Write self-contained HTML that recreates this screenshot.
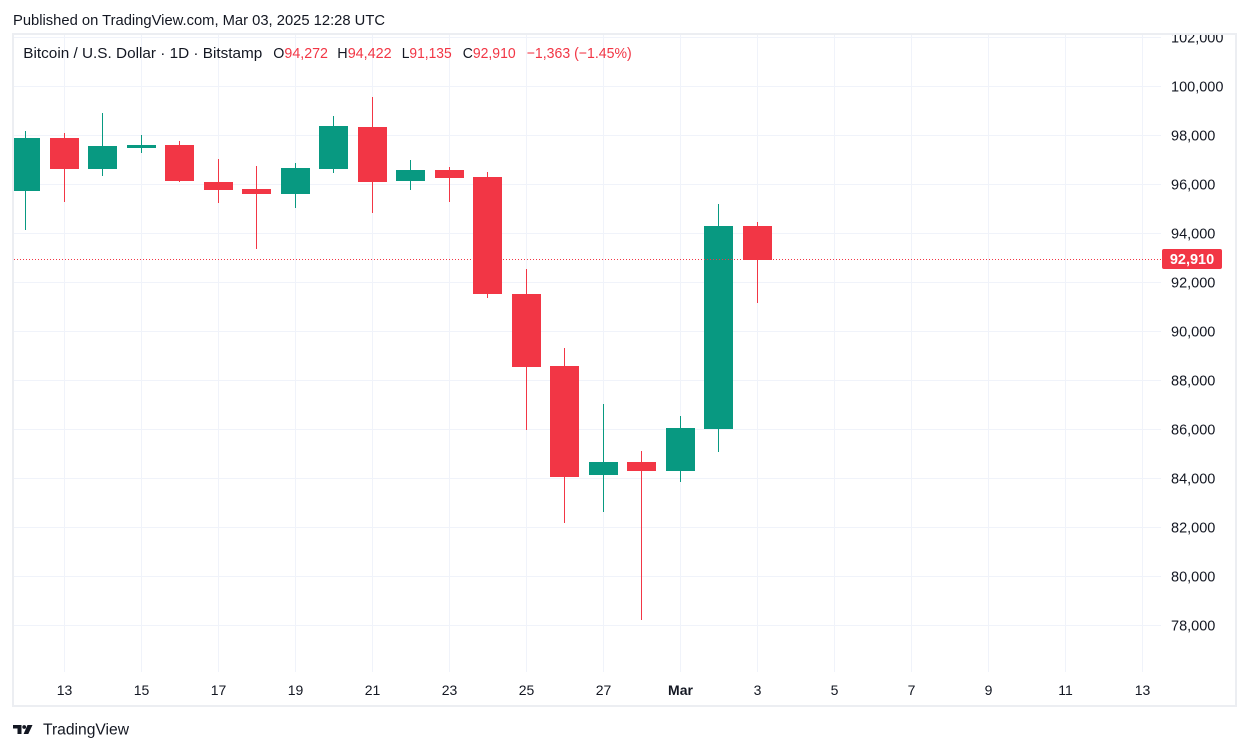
<!DOCTYPE html>
<html>
<head>
<meta charset="utf-8">
<style>
html,body{margin:0;padding:0;background:#ffffff;}
svg{display:block;}
text{font-family:"Liberation Sans",sans-serif;}
</style>
</head>
<body>
<svg width="1249" height="751" viewBox="0 0 1249 751" xmlns="http://www.w3.org/2000/svg">
<defs>
<clipPath id="pane"><rect x="14" y="35" width="1147" height="637"/></clipPath>
<clipPath id="axis"><rect x="1150" y="35" width="86" height="670"/></clipPath>
</defs>
<rect x="0" y="0" width="1249" height="751" fill="#ffffff"/>

<!-- header -->
<text x="13" y="25" font-size="15" fill="#131722" textLength="372" lengthAdjust="spacingAndGlyphs">Published on TradingView.com, Mar 03, 2025 12:28 UTC</text>

<!-- frame -->
<rect x="13" y="34" width="1223" height="672" fill="none" stroke="#eceef2" stroke-width="2"/>

<!-- vertical grid -->
<g stroke="#f0f3fa" stroke-width="1">
<line x1="64.5" y1="35" x2="64.5" y2="672"/>
<line x1="141.5" y1="35" x2="141.5" y2="672"/>
<line x1="218.5" y1="35" x2="218.5" y2="672"/>
<line x1="295.5" y1="35" x2="295.5" y2="672"/>
<line x1="372.5" y1="35" x2="372.5" y2="672"/>
<line x1="449.5" y1="35" x2="449.5" y2="672"/>
<line x1="526.5" y1="35" x2="526.5" y2="672"/>
<line x1="603.5" y1="35" x2="603.5" y2="672"/>
<line x1="680.5" y1="35" x2="680.5" y2="672"/>
<line x1="757.5" y1="35" x2="757.5" y2="672"/>
<line x1="834.5" y1="35" x2="834.5" y2="672"/>
<line x1="911.5" y1="35" x2="911.5" y2="672"/>
<line x1="988.5" y1="35" x2="988.5" y2="672"/>
<line x1="1065.5" y1="35" x2="1065.5" y2="672"/>
<line x1="1142.5" y1="35" x2="1142.5" y2="672"/>
</g>
<!-- horizontal grid -->
<g stroke="#f0f3fa" stroke-width="1">
<line x1="14" y1="37.5" x2="1161" y2="37.5"/>
<line x1="14" y1="86.5" x2="1161" y2="86.5"/>
<line x1="14" y1="135.5" x2="1161" y2="135.5"/>
<line x1="14" y1="184.5" x2="1161" y2="184.5"/>
<line x1="14" y1="233.5" x2="1161" y2="233.5"/>
<line x1="14" y1="282.5" x2="1161" y2="282.5"/>
<line x1="14" y1="331.5" x2="1161" y2="331.5"/>
<line x1="14" y1="380.5" x2="1161" y2="380.5"/>
<line x1="14" y1="429.5" x2="1161" y2="429.5"/>
<line x1="14" y1="478.5" x2="1161" y2="478.5"/>
<line x1="14" y1="527.5" x2="1161" y2="527.5"/>
<line x1="14" y1="576.5" x2="1161" y2="576.5"/>
<line x1="14" y1="625.5" x2="1161" y2="625.5"/>
</g>

<!-- candles -->
<g clip-path="url(#pane)">
<!-- 12 G -->
<rect x="25" y="131" width="1" height="99" fill="#089981"/>
<rect x="11" y="138" width="29" height="53" fill="#089981"/>
<!-- 13 R -->
<rect x="64" y="133" width="1" height="69" fill="#F23645"/>
<rect x="50" y="138" width="29" height="31" fill="#F23645"/>
<!-- 14 G -->
<rect x="102" y="113" width="1" height="63" fill="#089981"/>
<rect x="88" y="146" width="29" height="23" fill="#089981"/>
<!-- 15 G -->
<rect x="141" y="135" width="1" height="18" fill="#089981"/>
<rect x="127" y="145" width="29" height="3" fill="#089981"/>
<!-- 16 R -->
<rect x="179" y="141" width="1" height="41" fill="#F23645"/>
<rect x="165" y="145" width="29" height="36" fill="#F23645"/>
<!-- 17 R -->
<rect x="218" y="159" width="1" height="44" fill="#F23645"/>
<rect x="204" y="182" width="29" height="8" fill="#F23645"/>
<!-- 18 R -->
<rect x="256" y="166" width="1" height="83" fill="#F23645"/>
<rect x="242" y="189" width="29" height="5" fill="#F23645"/>
<!-- 19 G -->
<rect x="295" y="163" width="1" height="45" fill="#089981"/>
<rect x="281" y="168" width="29" height="26" fill="#089981"/>
<!-- 20 G -->
<rect x="333" y="116" width="1" height="57" fill="#089981"/>
<rect x="319" y="126" width="29" height="43" fill="#089981"/>
<!-- 21 R -->
<rect x="372" y="97" width="1" height="116" fill="#F23645"/>
<rect x="358" y="127" width="29" height="55" fill="#F23645"/>
<!-- 22 G -->
<rect x="410" y="160" width="1" height="30" fill="#089981"/>
<rect x="396" y="170" width="29" height="11" fill="#089981"/>
<!-- 23 R -->
<rect x="449" y="167" width="1" height="35" fill="#F23645"/>
<rect x="435" y="170" width="29" height="8" fill="#F23645"/>
<!-- 24 R -->
<rect x="487" y="172" width="1" height="126" fill="#F23645"/>
<rect x="473" y="177" width="29" height="117" fill="#F23645"/>
<!-- 25 R -->
<rect x="526" y="269" width="1" height="161" fill="#F23645"/>
<rect x="512" y="294" width="29" height="73" fill="#F23645"/>
<!-- 26 R -->
<rect x="564" y="348" width="1" height="175" fill="#F23645"/>
<rect x="550" y="366" width="29" height="111" fill="#F23645"/>
<!-- 27 G -->
<rect x="603" y="404" width="1" height="108" fill="#089981"/>
<rect x="589" y="462" width="29" height="13" fill="#089981"/>
<!-- 28 R -->
<rect x="641" y="451" width="1" height="169" fill="#F23645"/>
<rect x="627" y="462" width="29" height="9" fill="#F23645"/>
<!-- Mar 1 G -->
<rect x="680" y="416" width="1" height="66" fill="#089981"/>
<rect x="666" y="428" width="29" height="43" fill="#089981"/>
<!-- Mar 2 G -->
<rect x="718" y="204" width="1" height="248" fill="#089981"/>
<rect x="704" y="226" width="29" height="203" fill="#089981"/>
<!-- Mar 3 R -->
<rect x="757" y="222" width="1" height="81" fill="#F23645"/>
<rect x="743" y="226" width="29" height="34" fill="#F23645"/>
</g>

<!-- last price dotted line -->
<line x1="14" y1="259.5" x2="1162" y2="259.5" stroke="#F23645" stroke-width="1" stroke-dasharray="1 2"/>

<!-- legend -->
<text x="23.3" y="58" font-size="15" fill="#131722" textLength="239" lengthAdjust="spacingAndGlyphs">Bitcoin / U.S. Dollar · 1D · Bitstamp</text>
<text x="273.3" y="58" font-size="15" fill="#131722" textLength="54.7" lengthAdjust="spacingAndGlyphs">O<tspan fill="#F23645">94,272</tspan></text>
<text x="337.3" y="58" font-size="15" fill="#131722" textLength="54.4" lengthAdjust="spacingAndGlyphs">H<tspan fill="#F23645">94,422</tspan></text>
<text x="401.7" y="58" font-size="15" fill="#131722" textLength="50" lengthAdjust="spacingAndGlyphs">L<tspan fill="#F23645">91,135</tspan></text>
<text x="462.7" y="58" font-size="15" fill="#131722" textLength="53" lengthAdjust="spacingAndGlyphs">C<tspan fill="#F23645">92,910</tspan></text>
<text x="526.7" y="58" font-size="15" fill="#F23645" textLength="105" lengthAdjust="spacingAndGlyphs">−1,363 (−1.45%)</text>

<!-- price axis -->
<g clip-path="url(#axis)" font-size="14.5" fill="#131722">
<text x="1171" y="42.5">102,000</text>
<text x="1171" y="91.5">100,000</text>
<text x="1171" y="140.5">98,000</text>
<text x="1171" y="189.5">96,000</text>
<text x="1171" y="238.5">94,000</text>
<text x="1171" y="287.5">92,000</text>
<text x="1171" y="336.5">90,000</text>
<text x="1171" y="385.5">88,000</text>
<text x="1171" y="434.5">86,000</text>
<text x="1171" y="483.5">84,000</text>
<text x="1171" y="532.5">82,000</text>
<text x="1171" y="581.5">80,000</text>
<text x="1171" y="630.5">78,000</text>
</g>
<!-- last price label -->
<rect x="1162" y="249" width="60" height="20" rx="2" fill="#F23645"/>
<text x="1192" y="264" font-size="14.5" font-weight="bold" fill="#ffffff" text-anchor="middle">92,910</text>

<!-- time axis -->
<g font-size="14" fill="#131722" text-anchor="middle">
<text x="64.5" y="695">13</text>
<text x="141.5" y="695">15</text>
<text x="218.5" y="695">17</text>
<text x="295.5" y="695">19</text>
<text x="372.5" y="695">21</text>
<text x="449.5" y="695">23</text>
<text x="526.5" y="695">25</text>
<text x="603.5" y="695">27</text>
<text x="680.5" y="695" font-weight="bold">Mar</text>
<text x="757.5" y="695">3</text>
<text x="834.5" y="695">5</text>
<text x="911.5" y="695">7</text>
<text x="988.5" y="695">9</text>
<text x="1065.5" y="695">11</text>
<text x="1142.5" y="695">13</text>
</g>

<!-- TradingView logo -->
<g fill="#131722">
<path d="M13 725 H21.5 V734 H17.5 V728.5 H13 Z"/>
<circle cx="24.2" cy="727" r="1.9"/>
<path d="M27.5 725 H32.5 L28.3 734 H23.6 Z"/>
</g>
<text x="43" y="734.5" font-size="15.5" fill="#131722" textLength="86" lengthAdjust="spacingAndGlyphs">TradingView</text>
</svg>
</body>
</html>
